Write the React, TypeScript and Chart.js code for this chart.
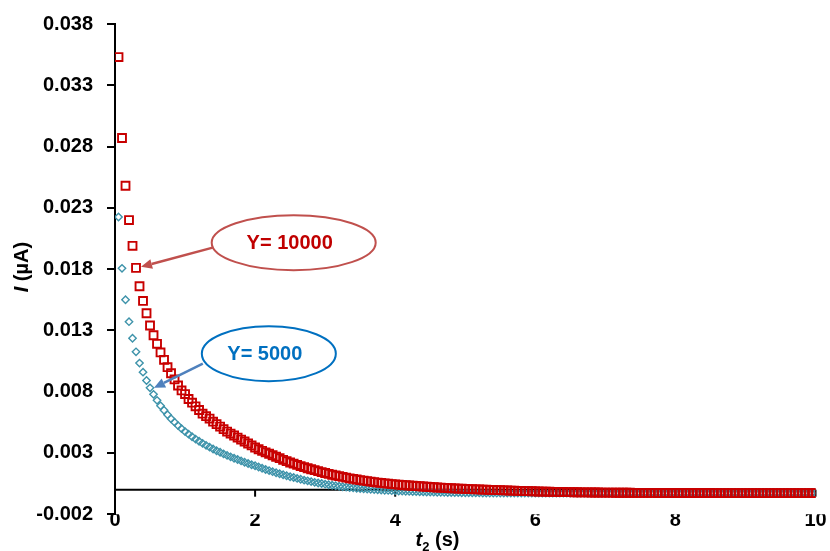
import React, { useEffect, useRef } from 'react';
import { Chart, registerables } from 'chart.js';

Chart.register(...registerables);

// sampling times t2 (s)
const times = [
  0.05, 0.1, 0.15, 0.2, 0.25, 0.3, 0.35, 0.4, 0.45, 0.5, 0.55, 0.6, 0.65, 0.7, 0.75, 0.8, 0.85, 0.9, 0.95, 1,
  1.05, 1.1, 1.15, 1.2, 1.25, 1.3, 1.35, 1.4, 1.45, 1.5, 1.55, 1.6, 1.65, 1.7, 1.75, 1.8, 1.85, 1.9, 1.95, 2,
  2.05, 2.1, 2.15, 2.2, 2.25, 2.3, 2.35, 2.4, 2.45, 2.5, 2.55, 2.6, 2.65, 2.7, 2.75, 2.8, 2.85, 2.9, 2.95, 3,
  3.05, 3.1, 3.15, 3.2, 3.25, 3.3, 3.35, 3.4, 3.45, 3.5, 3.55, 3.6, 3.65, 3.7, 3.75, 3.8, 3.85, 3.9, 3.95, 4,
  4.05, 4.1, 4.15, 4.2, 4.25, 4.3, 4.35, 4.4, 4.45, 4.5, 4.55, 4.6, 4.65, 4.7, 4.75, 4.8, 4.85, 4.9, 4.95, 5,
  5.05, 5.1, 5.15, 5.2, 5.25, 5.3, 5.35, 5.4, 5.45, 5.5, 5.55, 5.6, 5.65, 5.7, 5.75, 5.8, 5.85, 5.9, 5.95, 6,
  6.05, 6.1, 6.15, 6.2, 6.25, 6.3, 6.35, 6.4, 6.45, 6.5, 6.55, 6.6, 6.65, 6.7, 6.75, 6.8, 6.85, 6.9, 6.95, 7,
  7.05, 7.1, 7.15, 7.2, 7.25, 7.3, 7.35, 7.4, 7.45, 7.5, 7.55, 7.6, 7.65, 7.7, 7.75, 7.8, 7.85, 7.9, 7.95, 8,
  8.05, 8.1, 8.15, 8.2, 8.25, 8.3, 8.35, 8.4, 8.45, 8.5, 8.55, 8.6, 8.65, 8.7, 8.75, 8.8, 8.85, 8.9, 8.95, 9,
  9.05, 9.1, 9.15, 9.2, 9.25, 9.3, 9.35, 9.4, 9.45, 9.5, 9.55, 9.6, 9.65, 9.7, 9.75, 9.8, 9.85, 9.9, 9.95, 10,
];

// I (µA) for Y = 10000 (red squares)
const currentY10000 = [
  0.0353, 0.0287, 0.0248, 0.0220, 0.0199, 0.0181, 0.0166, 0.0154, 0.0144, 0.0134, 0.0126, 0.0119, 0.0112, 0.0106, 0.0100, 0.0095, 0.0090, 0.0085, 0.0081, 0.0078,
  0.0074, 0.0071, 0.0068, 0.0065, 0.0062, 0.0060, 0.0058, 0.00555, 0.00535, 0.00515, 0.00494, 0.00474, 0.00458, 0.00442, 0.00425, 0.00409, 0.00393, 0.00377, 0.00361, 0.00344,
  0.00330, 0.00317, 0.00305, 0.00293, 0.00281, 0.00269, 0.00257, 0.00244, 0.00233, 0.00222, 0.00212, 0.00202, 0.00193, 0.00184, 0.00175, 0.00167, 0.00159, 0.00151, 0.00143, 0.00136,
  0.00129, 0.00122, 0.00116, 0.00110, 0.00104, 0.00098, 0.00093, 0.00088, 0.00083, 0.00078, 0.00074, 0.00070, 0.00066, 0.00062, 0.00058, 0.00055, 0.00052, 0.00049, 0.00046, 0.00043,
  0.00041, 0.00038, 0.00036, 0.00034, 0.00032, 0.00030, 0.00028, 0.00026, 0.00024, 0.00022, 0.00020, 0.00018, 0.00017, 0.00015, 0.00013, 0.00012, 0.00010, 0.00009, 0.00008, 0.00006,
  0.00005, 0.00004, 0.00003, 0.00002, 0.00001, 0.00000, -0.00001, -0.00002, -0.00003, -0.00004, -0.00005, -0.00006, -0.00007, -0.00008, -0.00009, -0.00010, -0.00011, -0.00012, -0.00013, -0.00014,
  -0.00015, -0.00016, -0.00016, -0.00017, -0.00018, -0.00018, -0.00019, -0.00019, -0.00020, -0.00020, -0.00021, -0.00021, -0.00022, -0.00022, -0.00022, -0.00023, -0.00023, -0.00023, -0.00024, -0.00024,
  -0.00024, -0.00024, -0.00025, -0.00025, -0.00025, -0.00025, -0.00025, -0.00026, -0.00026, -0.00026, -0.00026, -0.00026, -0.00026, -0.00026, -0.00027, -0.00027, -0.00027, -0.00027, -0.00027, -0.00027,
  -0.00027, -0.00027, -0.00027, -0.00027, -0.00027, -0.00027, -0.00027, -0.00027, -0.00027, -0.00027, -0.00028, -0.00028, -0.00028, -0.00028, -0.00028, -0.00028, -0.00028, -0.00028, -0.00028, -0.00028,
  -0.00028, -0.00028, -0.00028, -0.00028, -0.00028, -0.00028, -0.00028, -0.00028, -0.00028, -0.00028, -0.00028, -0.00028, -0.00028, -0.00028, -0.00028, -0.00028, -0.00028, -0.00028, -0.00028, -0.00028,
];

// I (µA) for Y = 5000 (teal diamonds)
const currentY5000 = [
  0.02225, 0.01806, 0.01550, 0.01371, 0.01236, 0.01125, 0.01033, 0.00959, 0.00891, 0.00831, 0.00778, 0.00729, 0.00685, 0.00648, 0.00612, 0.00579, 0.00551, 0.00523, 0.00498, 0.00474,
  0.00453, 0.00432, 0.00413, 0.00395, 0.00378, 0.00362, 0.00347, 0.00332, 0.00318, 0.00305, 0.00292, 0.00280, 0.00268, 0.00257, 0.00246, 0.00235, 0.00224, 0.00214, 0.00204, 0.00195,
  0.00185, 0.00175, 0.00165, 0.00156, 0.00147, 0.00138, 0.00130, 0.00122, 0.00114, 0.00106, 0.00099, 0.00092, 0.00085, 0.00078, 0.00072, 0.00066, 0.00060, 0.00055, 0.00050, 0.00045,
  0.00040, 0.00036, 0.00032, 0.00028, 0.00024, 0.00021, 0.00018, 0.00015, 0.00012, 0.00010, 0.00007, 0.00005, 0.00003, 0.00001, -0.00001, -0.00003, -0.00005, -0.00006, -0.00008, -0.00009,
  -0.00011, -0.00012, -0.00013, -0.00014, -0.00015, -0.00016, -0.00017, -0.00018, -0.00019, -0.00019, -0.00020, -0.00021, -0.00021, -0.00022, -0.00023, -0.00023, -0.00024, -0.00024, -0.00025, -0.00025,
  -0.00025, -0.00026, -0.00026, -0.00026, -0.00027, -0.00027, -0.00027, -0.00027, -0.00028, -0.00028, -0.00028, -0.00028, -0.00028, -0.00028, -0.00028, -0.00028, -0.00028, -0.00028, -0.00028, -0.00028,
  -0.00028, -0.00028, -0.00028, -0.00028, -0.00028, -0.00028, -0.00028, -0.00028, -0.00028, -0.00028, -0.00028, -0.00028, -0.00028, -0.00028, -0.00028, -0.00028, -0.00028, -0.00028, -0.00028, -0.00028,
  -0.00029, -0.00029, -0.00029, -0.00029, -0.00029, -0.00029, -0.00029, -0.00029, -0.00029, -0.00029, -0.00029, -0.00029, -0.00029, -0.00029, -0.00029, -0.00029, -0.00029, -0.00029, -0.00029, -0.00029,
  -0.00029, -0.00029, -0.00029, -0.00029, -0.00029, -0.00029, -0.00029, -0.00029, -0.00029, -0.00029, -0.00029, -0.00029, -0.00029, -0.00029, -0.00029, -0.00029, -0.00029, -0.00029, -0.00029, -0.00029,
  -0.00029, -0.00029, -0.00029, -0.00029, -0.00029, -0.00029, -0.00029, -0.00029, -0.00029, -0.00029, -0.00029, -0.00029, -0.00029, -0.00029, -0.00029, -0.00029, -0.00029, -0.00029, -0.00029, -0.00029,
];

const yMin = -0.002;
const yMax = 0.038;
const yStep = 0.005;
const xMin = 0;
const xMax = 10;
const xStep = 2;

const FONT = "'Liberation Sans', Arial, sans-serif";

// callout annotations (anchored in data space)
const callouts = [
  { text: 'Y= 10000', t: 2.551, v: 0.02016, rx: 82, ry: 27.5, stroke: '#C0504D', textColor: '#C00000', arrowColor: '#C0504D', dataset: 0, index: 5, tipDx: 5, tipDy: -1, startDx: -81, startDy: 5 },
  { text: 'Y= 5000', t: 2.196, v: 0.0111, rx: 67, ry: 27.5, stroke: '#0070C0', textColor: '#0070C0', arrowColor: '#4F81BD', dataset: 1, index: 9, tipDx: 4, tipDy: 0, startDx: -66, startDy: 10 },
];

function drawArrow(ctx: CanvasRenderingContext2D, x1: number, y1: number, x2: number, y2: number, color: string) {
  const ang = Math.atan2(y2 - y1, x2 - x1);
  const head = 11;
  const half = 5;
  const bx = x2 - head * Math.cos(ang);
  const by = y2 - head * Math.sin(ang);
  ctx.save();
  ctx.strokeStyle = color;
  ctx.fillStyle = color;
  ctx.lineWidth = 2.5;
  ctx.beginPath();
  ctx.moveTo(x1, y1);
  ctx.lineTo(bx, by);
  ctx.stroke();
  ctx.beginPath();
  ctx.moveTo(x2, y2);
  ctx.lineTo(bx + half * Math.sin(ang), by - half * Math.cos(ang));
  ctx.lineTo(bx - half * Math.sin(ang), by + half * Math.cos(ang));
  ctx.closePath();
  ctx.fill();
  ctx.restore();
}

const overlayPlugin = {
  id: 'overlay',
  beforeDatasetsDraw(chart: any) {
    const { ctx, chartArea, scales } = chart;
    const x = scales.x;
    const y = scales.y;
    const y0 = y.getPixelForValue(0);
    ctx.save();
    ctx.strokeStyle = '#000';
    ctx.lineWidth = 2;
    ctx.beginPath();
    ctx.moveTo(chartArea.left, y0);
    ctx.lineTo(chartArea.right, y0);
    ctx.stroke();
    for (const tk of x.ticks) {
      if (tk.value === 0) continue;
      const px = x.getPixelForValue(tk.value);
      ctx.beginPath();
      ctx.moveTo(px, y0);
      ctx.lineTo(px, y0 + 7);
      ctx.stroke();
    }
    ctx.restore();
  },
  afterDraw(chart: any) {
    const { ctx, chartArea, scales } = chart;
    const x = scales.x;
    const y = scales.y;
    ctx.save();
    // y title: I (µA)
    ctx.fillStyle = '#000';
    ctx.textBaseline = 'middle';
    ctx.textAlign = 'left';
    const fItal = `italic bold 20px ${FONT}`;
    const fBold = `bold 20px ${FONT}`;
    ctx.font = fItal;
    const wI = ctx.measureText('I').width;
    ctx.font = fBold;
    const wRest = ctx.measureText(' (µA)').width;
    const cy = (chartArea.top + chartArea.bottom) / 2;
    ctx.save();
    ctx.translate(22, cy - 2);
    ctx.rotate(-Math.PI / 2);
    const sx = -(wI + wRest) / 2;
    ctx.font = fItal;
    ctx.fillText('I', sx, 0);
    ctx.font = fBold;
    ctx.fillText(' (µA)', sx + wI, 0);
    ctx.restore();

    // x title: t2 (s)
    ctx.textBaseline = 'alphabetic';
    ctx.font = fItal;
    const wt = ctx.measureText('t').width;
    const fSub = `bold 13px ${FONT}`;
    ctx.font = fSub;
    const w2 = ctx.measureText('2').width;
    ctx.font = fBold;
    const ws = ctx.measureText(' (s)').width;
    const total = wt + w2 + ws;
    const baseY = 546;
    let tx = 437.5 - total / 2;
    ctx.font = fItal;
    ctx.fillText('t', tx, baseY);
    tx += wt;
    ctx.font = fSub;
    ctx.fillText('2', tx, baseY + 5);
    tx += w2;
    ctx.font = fBold;
    ctx.fillText(' (s)', tx, baseY);

    // callouts
    for (const c of callouts) {
      const cx = x.getPixelForValue(c.t);
      const ccy = y.getPixelForValue(c.v);
      const meta = chart.getDatasetMeta(c.dataset);
      const pt = meta.data[c.index];
      drawArrow(ctx, cx + c.startDx, ccy + c.startDy, pt.x + c.tipDx, pt.y + c.tipDy, c.arrowColor);
      ctx.beginPath();
      ctx.ellipse(cx, ccy, c.rx, c.ry, 0, 0, Math.PI * 2);
      ctx.fillStyle = '#fff';
      ctx.fill();
      ctx.lineWidth = 2;
      ctx.strokeStyle = c.stroke;
      ctx.stroke();
      ctx.fillStyle = c.textColor;
      ctx.font = `bold 20px ${FONT}`;
      ctx.textAlign = 'center';
      ctx.textBaseline = 'middle';
      ctx.fillText(c.text, cx - 4, ccy + 1);
    }
    ctx.restore();
  },
};

export default function App() {
  const canvasRef = useRef<HTMLCanvasElement | null>(null);

  useEffect(() => {
    const canvas = canvasRef.current;
    if (!canvas) return;
    const tickFont = { family: FONT, size: 20, weight: 'bold' as const, lineHeight: 1 };
    const chart = new Chart(canvas, {
      type: 'scatter',
      data: {
        datasets: [
          {
            label: 'Y= 10000',
            data: times.map((t, i) => ({ x: t, y: currentY10000[i] })),
            pointStyle: 'rect',
            pointRadius: 5.6,
            borderWidth: 1.9,
            borderColor: 'rgb(200,0,0)',
            backgroundColor: 'rgba(0,0,0,0)',
            showLine: false,
          },
          {
            label: 'Y= 5000',
            data: times.map((t, i) => ({ x: t, y: currentY5000[i] })),
            pointStyle: 'rectRot',
            pointRadius: 3.7,
            borderWidth: 1.4,
            borderColor: '#3E93AA',
            backgroundColor: 'rgba(0,0,0,0)',
            showLine: false,
          },
        ],
      },
      options: {
        animation: false,
        responsive: false,
        events: [],
        layout: { padding: { top: 20.6, right: 14.5, left: 0, bottom: 0 } },
        plugins: { legend: { display: false }, tooltip: { enabled: false } },
        scales: {
          x: {
            type: 'linear',
            min: xMin,
            max: xMax,
            ticks: {
              stepSize: xStep,
              font: tickFont,
              color: '#000',
              padding: -4,
              maxRotation: 0,
              callback: (v: any) => String(v),
            },
            grid: { display: false, drawTicks: false },
            border: { display: false },
            afterFit: (s: any) => { s.height = 36.8; },
          },
          y: {
            type: 'linear',
            min: yMin,
            max: yMax,
            ticks: {
              stepSize: yStep,
              font: tickFont,
              color: '#000',
              padding: 14,
              callback: (v: any) => Number(v).toFixed(3),
            },
            grid: { drawOnChartArea: false, drawTicks: true, tickLength: 8, color: '#000', lineWidth: 2 },
            border: { display: true, color: '#000', width: 2 },
            afterFit: (s: any) => { s.width = 115; },
          },
        },
      },
      plugins: [overlayPlugin],
    });
    return () => chart.destroy();
  }, []);

  return (
    <div style={{ position: 'absolute', left: 0, top: 0, width: 830, height: 551, background: '#fff' }}>
      <canvas ref={canvasRef} width={830} height={551} style={{ width: 830, height: 551 }} />
    </div>
  );
}
